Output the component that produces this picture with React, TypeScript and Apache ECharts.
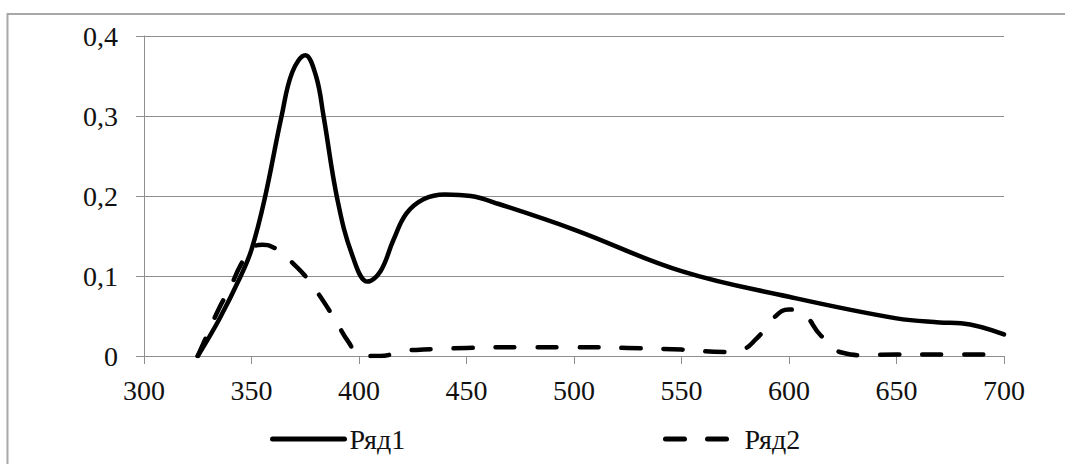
import React, { useEffect, useRef } from "react";
import * as echarts from "echarts";

// Wavelength grid (nm) and values of the first curve
const wavelengths1 = [
  325, 335, 345, 350, 356, 364, 369, 375, 380, 383.5, 390, 397, 404, 410, 416, 422,
  430, 440, 452, 465, 500, 550, 600, 650, 670, 680, 700,
];
const series1 = [
  0, 0.046, 0.1, 0.133, 0.195, 0.3, 0.355, 0.376, 0.35, 0.3, 0.195, 0.125, 0.093, 0.106, 0.145, 0.178,
  0.196, 0.202, 0.2, 0.19, 0.158, 0.106, 0.074, 0.047, 0.042, 0.041, 0.027,
];

// Wavelength grid (nm) and values of the second curve
const wavelengths2 = [
  325, 330, 335, 340, 345, 350, 355, 360, 365, 370, 375, 380, 385, 390, 395, 400,
  405, 410, 415, 420, 430, 450, 475, 500, 525, 550, 570, 577, 585, 593, 600, 607,
  615, 625, 635, 650, 675, 700,
];
const series2 = [
  0, 0.03, 0.06, 0.085, 0.114, 0.134, 0.139, 0.136, 0.126, 0.114, 0.1, 0.082, 0.062, 0.04, 0.018, 0.002,
  0, 0, 0.002, 0.006, 0.008, 0.01, 0.011, 0.011, 0.01, 0.008, 0.005, 0.007, 0.022, 0.048, 0.058, 0.052,
  0.025, 0.004, 0.001, 0.002, 0.002, 0.002,
];

const seriesNames = ["Ряд1", "Ряд2"];

// Axis settings
const xMin = 300;
const xMax = 700;
const xStep = 50;
const yMin = 0;
const yMax = 0.4;
const yStep = 0.1;

const FONT = "'Liberation Serif', 'Times New Roman', serif";
const GRID_COLOR = "#8f8f8f";
const TEXT_COLOR = "#111111";

export default function App() {
  const ref = useRef<HTMLDivElement>(null);

  useEffect(() => {
    if (!ref.current) return;
    const chart = echarts.init(ref.current, undefined, { renderer: "svg" });

    const pairs = (xs: number[], ys: number[]) => xs.map((x, i) => [x, ys[i]]);

    const legendCommon = {
      top: 420,
      itemHeight: 14,
      itemStyle: { opacity: 0 },
      lineStyle: { width: 5 },
      textStyle: { fontFamily: FONT, fontSize: 28, color: TEXT_COLOR, lineHeight: 28 },
    };

    chart.setOption({
      animation: false,
      backgroundColor: "#ffffff",
      graphic: [
        {
          type: "rect",
          shape: { x: 7.5, y: 14, width: 1200, height: 600 },
          style: { fill: "none", stroke: "#a8a8a8", lineWidth: 2 },
          silent: true,
        },
      ],
      grid: { left: 144, right: 61, top: 36, bottom: 108 },
      xAxis: {
        type: "value",
        min: xMin,
        max: xMax,
        interval: xStep,
        axisLine: { show: true, lineStyle: { color: GRID_COLOR, width: 1 } },
        axisTick: { show: true, length: 8, inside: false, lineStyle: { color: GRID_COLOR } },
        splitLine: { show: false },
        axisLabel: {
          margin: 20,
          fontFamily: FONT,
          fontSize: 28,
          color: TEXT_COLOR,
        },
      },
      yAxis: {
        type: "value",
        min: yMin,
        max: yMax,
        interval: yStep,
        axisLine: { show: true, lineStyle: { color: GRID_COLOR, width: 1 } },
        axisTick: { show: true, length: 8, inside: false, lineStyle: { color: GRID_COLOR } },
        splitLine: { show: true, lineStyle: { color: GRID_COLOR, width: 1 } },
        axisLabel: {
          margin: 26,
          fontFamily: FONT,
          fontSize: 28,
          color: TEXT_COLOR,
          formatter: (v: number) => String(+v.toFixed(1)).replace(".", ","),
        },
      },
      legend: [
        { ...legendCommon, data: [seriesNames[0]], left: 265, itemWidth: 72 },
        { ...legendCommon, data: [seriesNames[1]], left: 658, itemWidth: 74 },
      ],
      series: [
        {
          name: seriesNames[0],
          type: "line",
          data: pairs(wavelengths1, series1),
          smooth: 0.4,
          symbol: "none",
          lineStyle: { color: "#000", width: 4.5, cap: "round", join: "round" },
          itemStyle: { color: "#000" },
        },
        {
          name: seriesNames[1],
          type: "line",
          data: pairs(wavelengths2, series2),
          smooth: 0.5,
          symbol: "none",
          lineStyle: { color: "#000", width: 4.5, type: [19, 23], cap: "round", join: "round" },
          itemStyle: { color: "#000" },
        },
      ],
    });

    return () => chart.dispose();
  }, []);

  return (
    <div
      ref={ref}
      style={{ position: "fixed", left: 0, top: 0, width: 1065, height: 464 }}
    />
  );
}
